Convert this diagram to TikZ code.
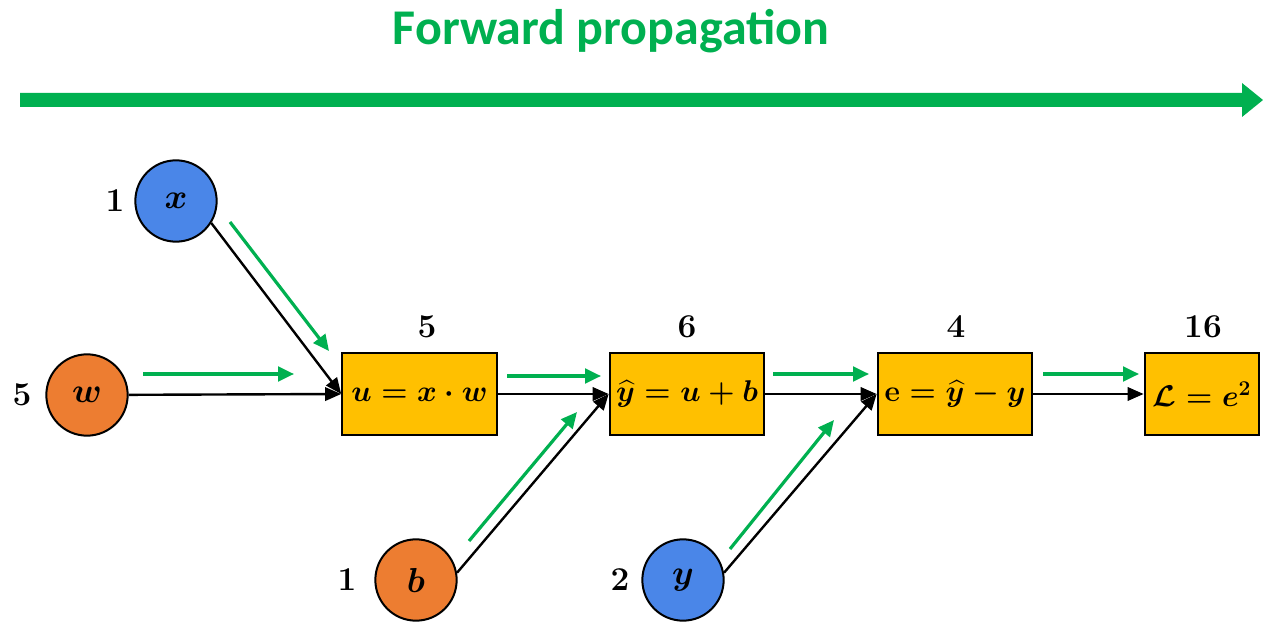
\RequirePackage{fix-cm}
\documentclass[tikz,border=0pt]{standalone}
\usepackage{fontspec}
\usepackage{amsmath}
\newfontfamily\titlefont{Carlito}
\usetikzlibrary{arrows.meta,calc}
\definecolor{fwdgreen}{RGB}{0,176,80}
\definecolor{varblue}{RGB}{74,134,232}
\definecolor{varorange}{RGB}{237,125,49}
\definecolor{opyellow}{RGB}{255,192,0}
\begin{document}
\begin{tikzpicture}[x=0.75pt,y=-0.75pt,
  var/.style={circle,draw=black,line width=1.5pt,minimum size=61pt,inner sep=0pt,
    font=\fontsize{26}{30}\selectfont\boldmath},
  op/.style={rectangle,draw=black,line width=1.5pt,fill=opyellow,minimum width=116pt,
    minimum height=62pt,inner sep=0pt,font=\fontsize{22.5}{27}\selectfont\boldmath},
  val/.style={font=\fontsize{25}{30}\selectfont\bfseries},
  flow/.style={draw=black,line width=1.8pt,-{Triangle[length=12pt,width=10pt]}},
  gflow/.style={draw=fwdgreen,line width=2.4pt,-{Triangle[length=12pt,width=11pt]}}]
\useasboundingbox (0,0) rectangle (1263,623);

% title and the overall direction arrow
\node[font=\titlefont\fontsize{37.5}{44}\selectfont\bfseries,text=fwdgreen] (title) at (611,31) {Forward propagation};
\fill[fwdgreen] (20,93) -- (1242,93) -- (1242,83) -- (1263,100) -- (1242,117) -- (1242,107) -- (20,107) -- cycle;

% input variables
\node[var,fill=varblue]   (x) at (176,201) {$x$};
\node[var,fill=varorange] (w) at (87,395)  {$w$};
\node[var,fill=varorange] (b) at (416,580) {$b$};
\node[var,fill=varblue]   (y) at (683,580) {$y$};

\node[val] (vx) at (115,201) {1};
\node[val] (vw) at (22,395)  {5};
\node[val] (vb) at (347,580) {1};
\node[val] (vy) at (620,580) {2};

% operations
\node[op] (u)  at (419.5,394) {$u = x \cdot w$};
\node[op] (yh) at (687,394)   {$\widehat{y} = u + b$};
\node[op] (e)  at (955,394)   {$\mathbf{e} = \widehat{y} - y$};
\node[op,minimum width=86pt] (L) at (1202,394) {$\mathcal{L} = e^2$};

\node[val] (vu)  at (427,327)  {5};
\node[val] (vyh) at (687,327)  {6};
\node[val] (ve)  at (956,327)  {4};
\node[val] (vL)  at (1203,327) {16};

% computation edges
\draw[flow] (x.-32) -- (u.west);
\draw[flow] (w) -- (u.west);
\draw[flow] (u) -- (yh.west);
\draw[flow] (b.10) -- (yh.west);
\draw[flow] (yh) -- (e.west);
\draw[flow] (y.10) -- (e.west);
\draw[flow] (e) -- (L.west);

% forward-pass markers beside each edge
\coordinate (gx1) at (230,222);  \coordinate (gx2) at (329,351);
\coordinate (gw1) at (143,374);  \coordinate (gw2) at (294,374);
\coordinate (gu1) at (507,376);  \coordinate (gu2) at (601,376);
\coordinate (gb1) at (469,541);  \coordinate (gb2) at (577,412);
\coordinate (gy1) at (730,549);  \coordinate (gy2) at (834,420);
\coordinate (ge1) at (773,374);  \coordinate (ge2) at (869,374);
\coordinate (gL1) at (1043,374); \coordinate (gL2) at (1139,374);
\draw[gflow] (gx1) -- (gx2);
\draw[gflow] (gw1) -- (gw2);
\draw[gflow] (gu1) -- (gu2);
\draw[gflow] (gb1) -- (gb2);
\draw[gflow] (gy1) -- (gy2);
\draw[gflow] (ge1) -- (ge2);
\draw[gflow] (gL1) -- (gL2);
\end{tikzpicture}
\end{document}
